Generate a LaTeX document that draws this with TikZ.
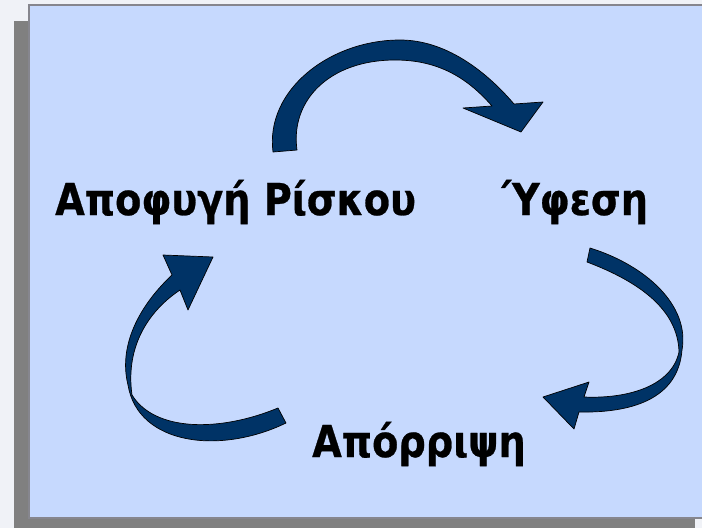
\documentclass[tikz,border=0pt]{standalone}
\usepackage{fontspec}
\setmainfont{DejaVu Sans}[FakeStretch=0.87, BoldFeatures={FakeBold=0.6}]
\definecolor{bgc}{HTML}{F0F2F7}
\definecolor{shadowc}{HTML}{808080}
\definecolor{panelc}{HTML}{C6D9FE}
\definecolor{bordc}{HTML}{86868E}
\definecolor{navyc}{HTML}{003366}
\begin{document}
\begin{tikzpicture}[x=1pt,y=-1pt,
  ribbon/.style={fill=navyc, draw=black, line width=0.7pt, line join=round},
  lbl/.style={font=\fontsize{44}{50}\selectfont\bfseries, anchor=base west, inner sep=0pt, text=black}]
\useasboundingbox (0,0) rectangle (702,528);
\fill[bgc] (0,0) rectangle (702,528);
\fill[shadowc] (14,21) rectangle (695,528);
\filldraw[fill=panelc, draw=bordc, line width=1.8pt] (29,5) rectangle (715,518);

% labels
\node[lbl] (avoid) at (55,215) {Αποφυγή Ρίσκου};
\node[lbl] (yfesi) at (502,215) {Ύφεση};
\node[lbl] (aporr) at (312,457) {Απόρριψη};

% top arrow: Αποφυγή Ρίσκου -> Ύφεση
\draw[ribbon] (273,152) .. controls (265,90) and (330,40) .. (400,40)
  .. controls (445,40) and (485,70) .. (514,104)
  -- (543,102) -- (521,132) -- (463,108) -- (492,106)
  .. controls (465,75) and (435,60) .. (395,60)
  .. controls (330,60) and (290,100) .. (297,150) -- cycle;

% right arrow: Ύφεση -> Απόρριψη
\draw[ribbon] (590,248) .. controls (645,265) and (690,305) .. (682,350)
  .. controls (678,400) and (630,413) .. (579,412)
  -- (574,429) -- (543,397) -- (589,382) -- (584,397)
  .. controls (630,399) and (672,385) .. (679,352)
  .. controls (678,310) and (640,282) .. (587,262) -- cycle;

% left arrow: Απόρριψη -> Αποφυγή Ρίσκου
\draw[ribbon] (172,275) .. controls (140,305) and (118,345) .. (128,385)
  .. controls (138,445) and (220,455) .. (286,423)
  -- (278,408)
  .. controls (220,432) and (155,432) .. (132,395)
  .. controls (125,345) and (150,310) .. (180,290)
  -- (188,310) -- (213,257) -- (163,255) -- cycle;
\end{tikzpicture}
\end{document}
